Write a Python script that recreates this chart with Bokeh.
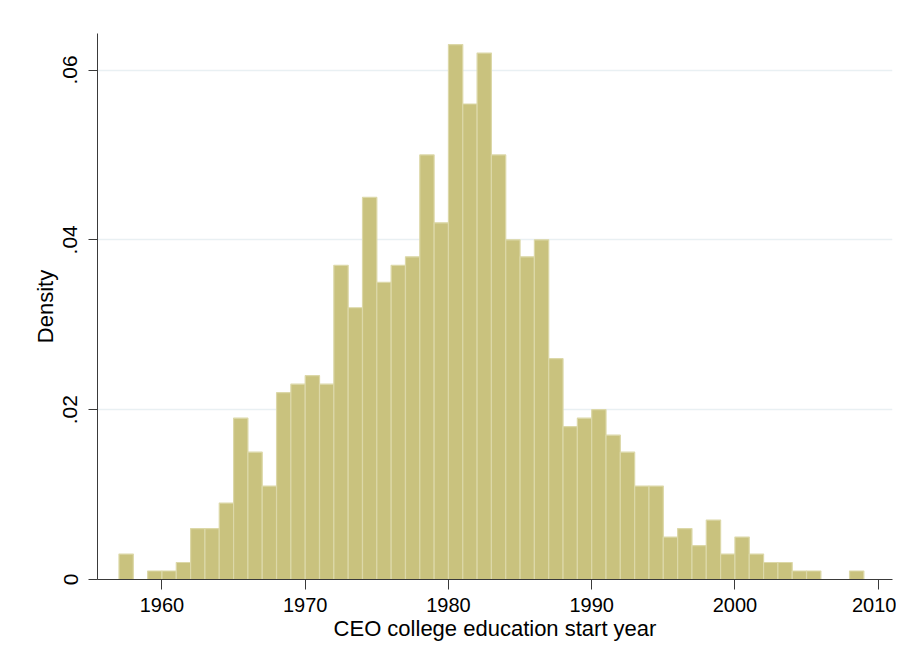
from bokeh.plotting import figure
from bokeh.models import FixedTicker, Range1d
from bokeh.embed import file_html
from bokeh.resources import INLINE

# Histogram bins: left edge of each 1-year bin and its density
years = [1957, 1958, 1959, 1960, 1961, 1962, 1963, 1964, 1965, 1966,
         1967, 1968, 1969, 1970, 1971, 1972, 1973, 1974, 1975, 1976,
         1977, 1978, 1979, 1980, 1981, 1982, 1983, 1984, 1985, 1986,
         1987, 1988, 1989, 1990, 1991, 1992, 1993, 1994, 1995, 1996,
         1997, 1998, 1999, 2000, 2001, 2002, 2003, 2004, 2005, 2006,
         2007, 2008]
density = [0.003, 0.000, 0.001, 0.001, 0.002, 0.006, 0.006, 0.009, 0.019, 0.015,
           0.011, 0.022, 0.023, 0.024, 0.023, 0.037, 0.032, 0.045, 0.035, 0.037,
           0.038, 0.050, 0.042, 0.063, 0.056, 0.062, 0.050, 0.040, 0.038, 0.040,
           0.026, 0.018, 0.019, 0.020, 0.017, 0.015, 0.011, 0.011, 0.005, 0.006,
           0.004, 0.007, 0.003, 0.005, 0.003, 0.002, 0.002, 0.001, 0.001, 0.000,
           0.000, 0.001]
bin_width = 1

x_ticks = [1960, 1970, 1980, 1990, 2000, 2010]
y_ticks = [0, 0.02, 0.04, 0.06]
y_tick_labels = {0: "0", 0.02: ".02", 0.04: ".04", 0.06: ".06"}

x_title = "CEO college education start year"
y_title = "Density"

FONT = "Liberation Sans"

p = figure(width=896, height=656, output_backend="svg", toolbar_location=None,
           x_range=Range1d(1955.5, 2011.0), y_range=Range1d(0, 0.0643),
           min_border_left=97, min_border_right=4, min_border_top=33,
           min_border_bottom=77)

p.outline_line_color = None
p.background_fill_color = "white"
p.border_fill_color = "white"

lefts = years
rights = [y + bin_width for y in years]
p.quad(left=lefts, right=rights, bottom=0, top=density,
       fill_color="#c9c27e", line_color="#dcd8a8", line_width=1.2)

# grid
p.xgrid.grid_line_color = None
p.ygrid.ticker = FixedTicker(ticks=y_ticks[1:])
p.ygrid.grid_line_color = "#e9f0f3"
p.ygrid.grid_line_width = 1.5

# x axis
xa = p.xaxis[0]
xa.ticker = FixedTicker(ticks=x_ticks)
xa.axis_label = x_title
xa.axis_label_text_font = FONT
xa.axis_label_text_font_size = "22px"
xa.axis_label_text_font_style = "normal"
xa.axis_label_text_color = "#000000"
xa.axis_label_standoff = 1
xa.major_label_text_font = FONT
xa.major_label_text_font_size = "20px"
xa.major_label_text_color = "#000000"
xa.major_label_standoff = 8
xa.major_tick_out = 10
xa.major_tick_in = 0
xa.minor_tick_out = 0
xa.minor_tick_in = 0
xa.axis_line_color = "#3a3a3a"
xa.major_tick_line_color = "#3a3a3a"

# y axis
ya = p.yaxis[0]
ya.ticker = FixedTicker(ticks=y_ticks)
ya.major_label_overrides = y_tick_labels
ya.major_label_orientation = "vertical"
ya.axis_label = y_title
ya.axis_label_text_font = FONT
ya.axis_label_text_font_size = "22px"
ya.axis_label_text_font_style = "normal"
ya.axis_label_text_color = "#000000"
ya.axis_label_standoff = 3
ya.major_label_text_font = FONT
ya.major_label_text_font_size = "21px"
ya.major_label_text_color = "#000000"
ya.major_label_standoff = 11
ya.major_tick_out = 9
ya.major_tick_in = 0
ya.minor_tick_out = 0
ya.minor_tick_in = 0
ya.axis_line_color = "#3a3a3a"
ya.major_tick_line_color = "#3a3a3a"

open("out.html", "w").write(file_html(p, INLINE))
